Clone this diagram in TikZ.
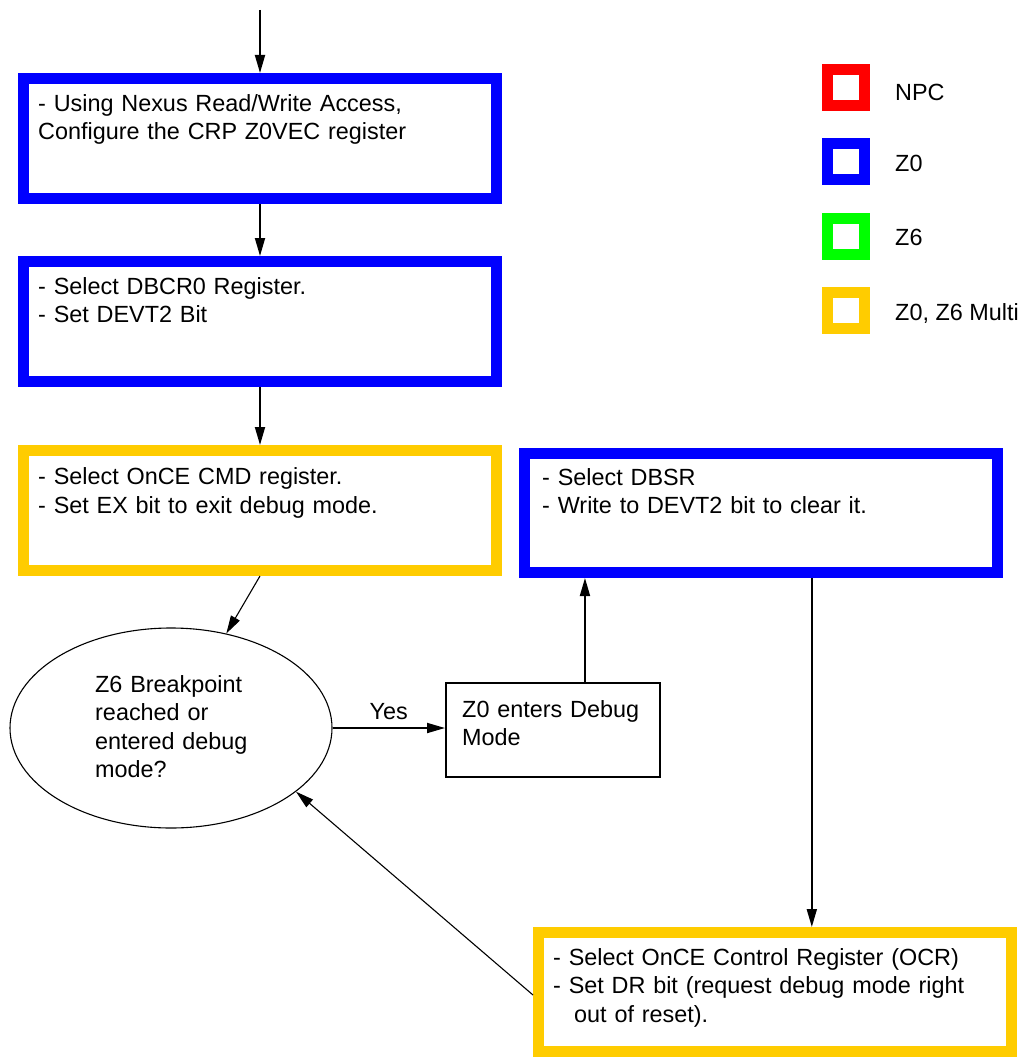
\documentclass[tikz,border=0pt]{standalone}
\usepackage{fontspec}
\setmainfont{Liberation Sans}
\usetikzlibrary{arrows.meta,shapes.geometric,calc}
\definecolor{zblue}{RGB}{0,0,255}
\definecolor{zyellow}{RGB}{255,204,0}
\definecolor{zred}{RGB}{255,0,0}
\definecolor{zgreen}{RGB}{0,255,0}
\begin{document}
\begin{tikzpicture}[x=1pt,y=-1pt,
  box/.style={draw=#1, line width=11pt, minimum width=473pt, minimum height=120pt, inner sep=0pt},
  legbox/.style={draw=#1, line width=11pt, minimum width=37pt, minimum height=36pt, inner sep=0pt},
  txt/.style={anchor=base west, inner sep=0pt, align=left, text width=#1,
    font=\fontsize{23.4pt}{28.5pt}\selectfont},
  lbl/.style={anchor=base west, inner sep=0pt, font=\fontsize{23.4pt}{28.5pt}\selectfont},
  conn/.style={line width=1.8pt, -{Triangle[length=18pt,width=10pt]}},
  thinconn/.style={line width=1.1pt, -{Triangle[length=18pt,width=10pt]}}
]
\useasboundingbox (0,0) rectangle (1021,1057);

% boxes
\node[box=zblue, minimum height=120pt] (b1) at (260,138.5) {};
\node[box=zblue, minimum height=120pt] (b2) at (260,321.5) {};
\node[box=zyellow, minimum height=120pt] (b3) at (260,510.5) {};
\node[box=zblue, minimum height=119pt] (b4) at (761,513) {};
\node[box=zyellow, minimum height=119pt] (b5) at (775,992) {};

\node[txt=450pt] (t1) at (38,111) {- Using Nexus Read/Write Access,\\Configure the CRP Z0VEC register};
\node[txt=450pt] (t2) at (38,294) {- Select DBCR0 Register.\\- Set DEVT2 Bit};
\node[txt=450pt] (t3) at (38,484.5) {- Select OnCE CMD register.\\- Set EX bit to exit debug mode.};
\node[txt=450pt] (t4) at (542,485) {- Select DBSR\\- Write to DEVT2 bit to clear it.};
\node[txt=450pt] (t5) at (553,965) {- Select OnCE Control Register (OCR)\\- Set DR bit (request debug mode right\\\hspace*{21pt}out of reset).};

% decision ellipse
\node[ellipse, draw, line width=1.1pt, minimum width=322pt, minimum height=200pt, inner sep=0pt] (ell) at (171,728) {};
\node[txt=220pt] (te) at (95,692) {Z6 Breakpoint\\reached or\\entered debug\\mode?};

% small box
\node[draw, line width=2pt, minimum width=214pt, minimum height=94pt, inner sep=0pt] (sb) at (553,730) {};
\node[txt=200pt] (ts) at (462,717) {Z0 enters Debug\\Mode};

% legend
\node[legbox=zred] (lr) at (846,87.5) {};
\node[legbox=zblue] (lb) at (846,161.5) {};
\node[legbox=zgreen] (lg) at (846,236.5) {};
\node[legbox=zyellow] (ly) at (846,310) {};
\node[lbl] (lrt) at (895,100) {NPC};
\node[lbl] (lbt) at (895,171) {Z0};
\node[lbl] (lgt) at (895,245.5) {Z6};
\node[lbl] (lyt) at (895,320) {Z0, Z6 Multi};

% connectors
\coordinate (start) at (260,10);
\draw[conn] (start) -- (b1.north);
\draw[conn] (b1.south) -- (b2.north);
\draw[conn] (b2.south) -- (b3.north);
\draw[thinconn] (b3.south) -- (ell);
\draw[conn] (ell.east) -- (sb.west |- ell.east) node[lbl, midway, above=9pt, anchor=base] (yes) {Yes};
\coordinate (sbup) at ($(sb.north west)!0.648!(sb.north east)$);
\draw[conn] (sbup) -- (sbup |- b4.south);
\coordinate (b4dn) at ($(b4.south west)!0.605!(b4.south east)$);
\draw[conn] (b4dn) -- (b4dn |- b5.north);
\draw[thinconn] ([yshift=-3pt]b5.west) -- (ell.-27);
\end{tikzpicture}
\end{document}
